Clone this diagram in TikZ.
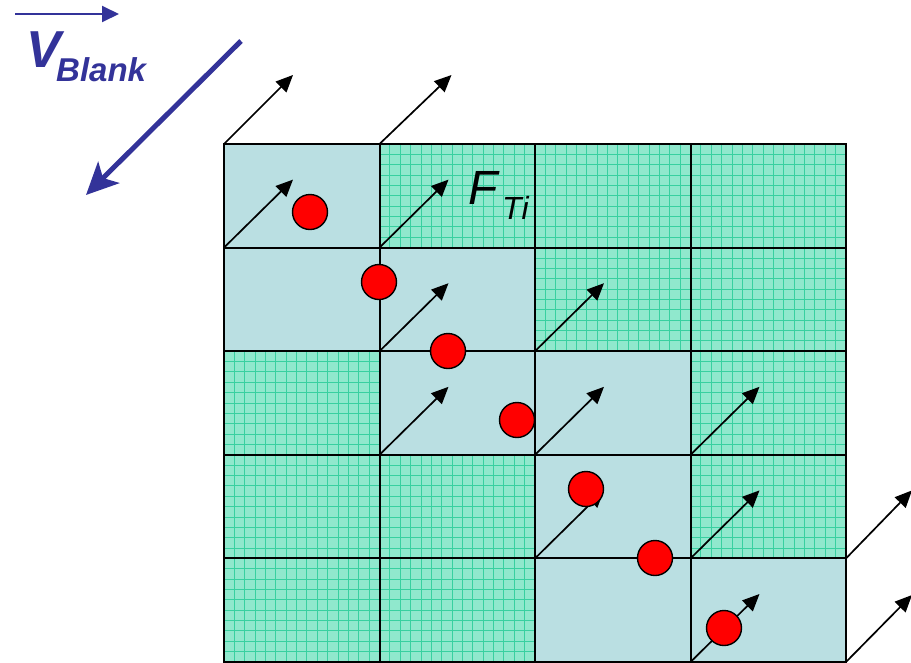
\documentclass[tikz,border=0pt]{standalone}
\usepackage{fontspec}
\setmainfont{Liberation Sans}
\usetikzlibrary{arrows.meta}
\definecolor{cellblue}{HTML}{BADFE2}
\definecolor{cellgreen}{HTML}{90E8CD}
\definecolor{hatchgreen}{HTML}{38D0A0}
\definecolor{vblue}{HTML}{333399}
\tikzset{
  cellbase/.style={minimum width=155.5pt, minimum height=103.6pt, anchor=north west, inner sep=0pt, outer sep=0pt},
  bluecell/.style={cellbase, fill=cellblue},
  greencell/.style={cellbase, fill=cellgreen, path picture={
      \foreach \k in {1,...,14}{
        \draw[hatchgreen, line width=0.9pt] ([xshift=\k*10.367pt]path picture bounding box.south west) -- ([xshift=\k*10.367pt]path picture bounding box.north west);}
      \foreach \k in {1,...,9}{
        \draw[hatchgreen, line width=0.9pt] ([yshift=\k*10.36pt]path picture bounding box.south west) -- ([yshift=\k*10.36pt]path picture bounding box.south east);}
    }},
  cellline/.style={draw=black, line width=2pt},
  farrow/.style={line width=1.7pt, -{Triangle[length=17pt,width=15pt]}},
  ball/.style={circle, fill=red, draw=black, line width=1.4pt, minimum size=35pt, inner sep=0pt},
  varrow/.style={vblue, line width=2pt, -{Triangle[length=17pt,width=16pt]}},
  bigarrow/.style={vblue, line width=5pt, -{Stealth[length=32pt,width=30pt,inset=8pt]}}
}
\begin{document}
\begin{tikzpicture}[x=1pt,y=-1pt]
\useasboundingbox (0,0) rectangle (911,662);
% cells: row r, column c
\foreach \r/\c/\s in {0/0/bluecell,0/1/greencell,0/2/greencell,0/3/greencell,
                      1/0/bluecell,1/1/bluecell,1/2/greencell,1/3/greencell,
                      2/0/greencell,2/1/bluecell,2/2/bluecell,2/3/greencell,
                      3/0/greencell,3/1/greencell,3/2/bluecell,3/3/greencell,
                      4/0/greencell,4/1/greencell,4/2/bluecell,4/3/bluecell}{
  \node[\s] (c\r\c) at ({224+155.5*\c},{144+103.6*\r}) {};
}
% cell borders drawn over all fills
\foreach \r in {0,...,4}{
  \foreach \c in {0,...,3}{
    \draw[cellline] (c\r\c.north west) rectangle (c\r\c.south east);
  }
}
% arrows from the lower-left corners of cells
\foreach \n in {c00,c01,c11,c12,c21,c22,c23,c32,c33,c43}{
  \coordinate (t\n) at ([shift={(69,-68)}]\n.south west);
  \draw[farrow] (\n.south west) -- (t\n);
}
% arrows on the outer edges
\coordinate (ta) at ([shift={(69,-69)}]c00.north west);
\draw[farrow] (c00.north west) -- (ta);
\coordinate (tb) at ([shift={(72,-69)}]c01.north west);
\draw[farrow] (c01.north west) -- (tb);
\coordinate (tc) at ([shift={(66,-68)}]c33.south east);
\draw[farrow] (c33.south east) -- (tc);
\coordinate (td) at ([shift={(66,-67)}]c43.south east);
\draw[farrow] (c43.south east) -- (td);
% red balls
\node[ball] (b1) at (310,212) {};
\node[ball] (b2) at (379,282) {};
\node[ball] (b3) at (448,351) {};
\node[ball] (b4) at (517,420) {};
\node[ball] (b5) at (586,489) {};
\node[ball] (b6) at (655,558) {};
\node[ball] (b7) at (724,628) {};
% F_Ti label
\node[anchor=base west, inner sep=0pt, font=\fontsize{48}{48}\selectfont\itshape] (F) at (468,204) {F};
\node[anchor=base west, inner sep=0pt, font=\fontsize{32}{32}\selectfont\itshape] (Ti) at (502,219) {Ti};
% V_Blank label
\node[anchor=base west, inner sep=0pt, text=vblue, font=\fontsize{52}{52}\selectfont\bfseries\itshape] (V) at (26,67) {V};
\node[anchor=base west, inner sep=0pt, text=vblue, font=\fontsize{33}{33}\selectfont\bfseries\itshape] (Bl) at (56,81) {Blank};
\coordinate (va) at (15,14);
\coordinate (vb) at (119,14);
\draw[varrow] (va) -- (vb);
\coordinate (ba) at (241,41);
\coordinate (bb) at (86,195);
\draw[bigarrow] (ba) -- (bb);
\end{tikzpicture}
\end{document}
